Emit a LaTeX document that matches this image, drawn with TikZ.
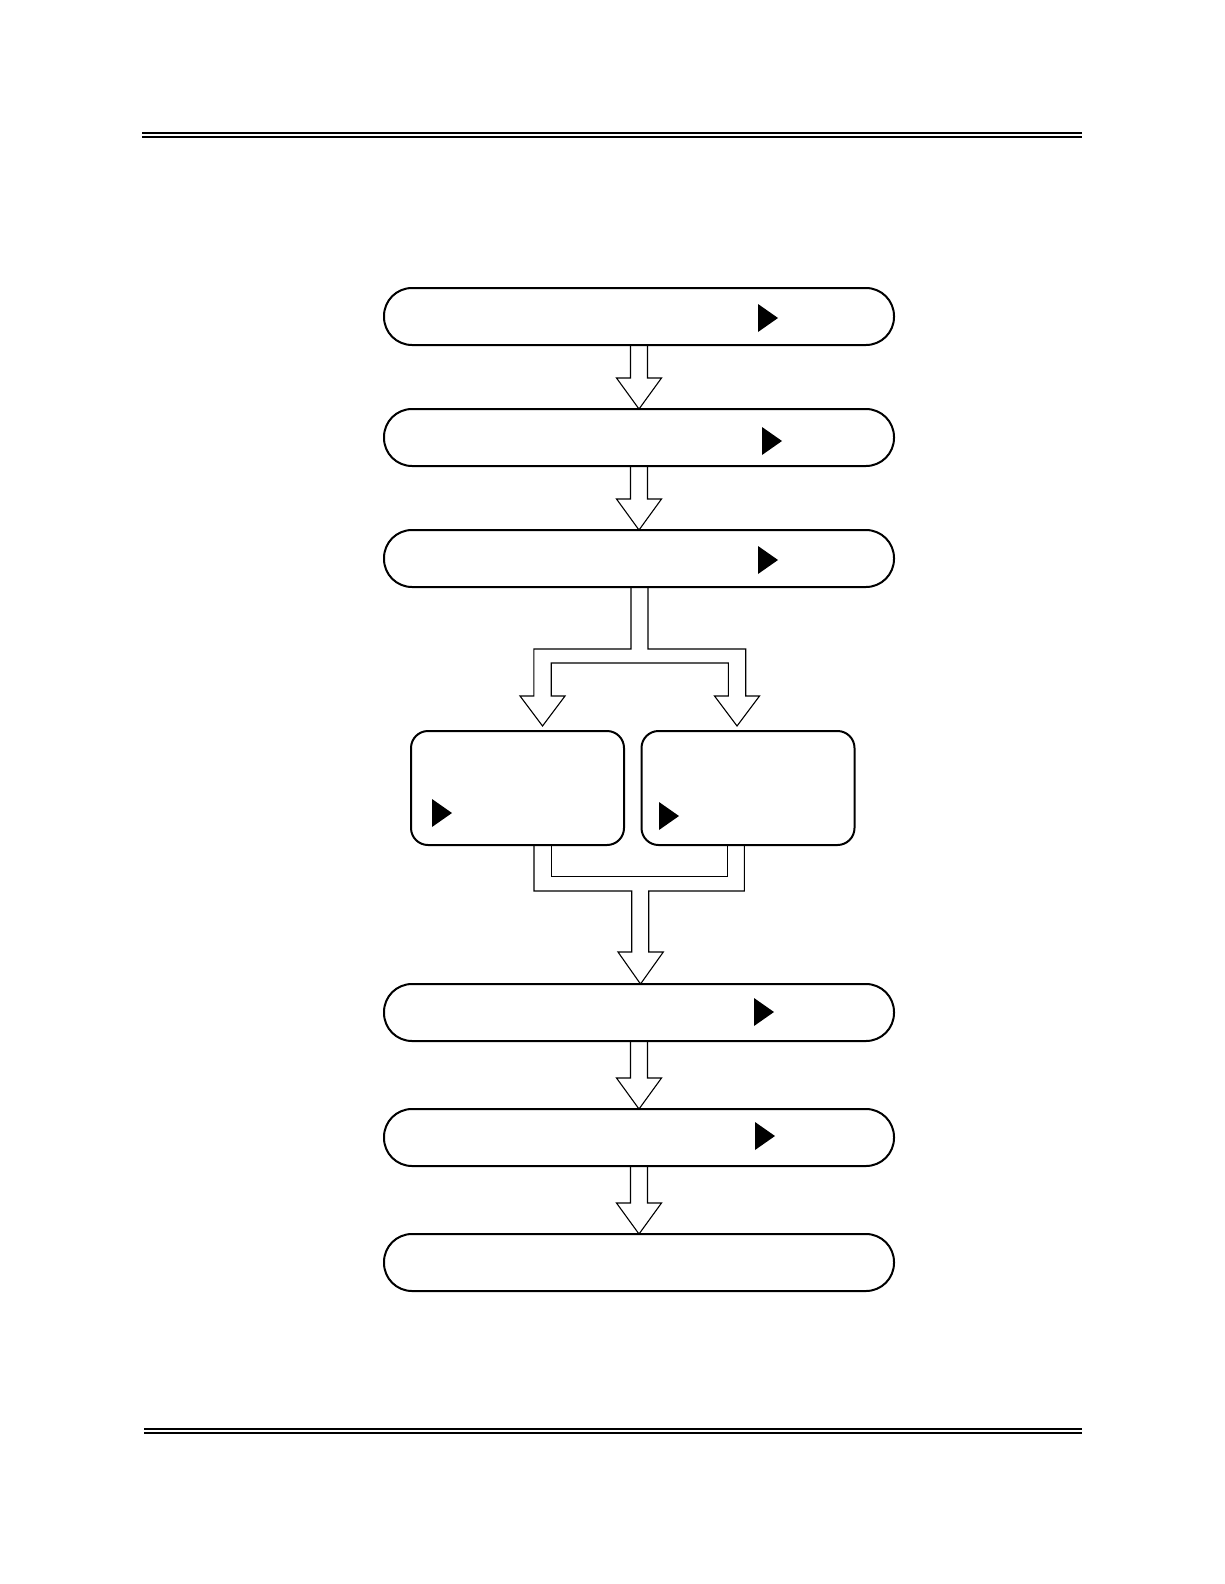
\documentclass[tikz,border=0pt]{standalone}
\usetikzlibrary{calc}
\newcommand\blockarrow[2]{%
  \draw[blockline] ($(#1.south)+(-8.5,0)$) -- ($(#2.north)+(-8.5,-31)$) -- ($(#2.north)+(-22.5,-31)$)
    -- (#2.north) -- ($(#2.north)+(22.5,-31)$) -- ($(#2.north)+(8.5,-31)$) -- ($(#1.south)+(8.5,0)$);}
\newcommand\marktri[2]{%
  \fill[black] (#1,#2) -- ++(20,14) -- ++(-20,14) -- cycle;}
\begin{document}
\begin{tikzpicture}[x=1pt,y=-1pt,
  pill/.style={draw, line width=2pt, rounded corners=28pt, minimum width=510pt, minimum height=57pt, inner sep=0pt, outer sep=0pt},
  sidebox/.style={draw, line width=2pt, rounded corners=17pt, minimum width=213pt, minimum height=114pt, inner sep=0pt, outer sep=0pt},
  blockline/.style={line width=1.1pt, line join=miter},
  rulebar/.style={line width=2pt}]
\useasboundingbox (0,0) rectangle (1224,1584);

% header and footer rules
\draw[rulebar] (142,133) -- (1082,133);
\draw[rulebar] (142,136.7) -- (1082,136.7);
\draw[rulebar] (144,1429) -- (1082,1429);
\draw[rulebar] (144,1432.7) -- (1082,1432.7);

% boxes
\node[pill] (b1) at (639,316.5) {};
\node[pill] (b2) at (639,437.5) {};
\node[pill] (b3) at (639,558.5) {};
\node[sidebox] (lb) at (517.5,788) {};
\node[sidebox] (rb) at (748,788) {};
\node[pill] (b4) at (639,1012.5) {};
\node[pill] (b5) at (639,1137.5) {};
\node[pill] (b6) at (639,1262.5) {};

% markers
\marktri{758}{304}
\marktri{762}{427}
\marktri{758}{546}
\marktri{432}{799}
\marktri{659}{802}
\marktri{754}{998}
\marktri{755}{1122}

% straight block arrows
\blockarrow{b1}{b2}
\blockarrow{b2}{b3}
\blockarrow{b4}{b5}
\blockarrow{b5}{b6}

% split arrow
\coordinate (sA) at ($(b3.south)+(-8,0)$);
\coordinate (sB) at ($(b3.south)+(9,0)$);
\coordinate (tipL) at (542.5,726);
\coordinate (tipR) at (737,726);
\draw[blockline] (sA) -- (sA |- 0,649) -- (533.8,649) -- (533.8,696) -- (520,696) -- (tipL)
  -- (565,696) -- (551.2,696) -- (551.2,663) -- (728.3,663) -- (728.3,696) -- (714.5,696) -- (tipR)
  -- (759.5,696) -- (745.7,696) -- (745.7,649) -- (sB |- 0,649) -- (sB);

% merge arrow
\coordinate (mL) at (534,845);
\coordinate (mR) at (744.3,845);
\coordinate (mTip) at ($(b4.north)+(1.5,0)$);
\draw[blockline] (mL) -- (534,891) -- (631.7,891) -- (631.7,952) -- (618,952) -- (mTip)
  -- (663.3,952) -- (648.7,952) -- (648.7,891) -- (744.3,891) -- (mR);
\draw[blockline] (551.7,845) -- (551.7,876.7) -- (727.7,876.7) -- (727.7,845);
\end{tikzpicture}
\end{document}
